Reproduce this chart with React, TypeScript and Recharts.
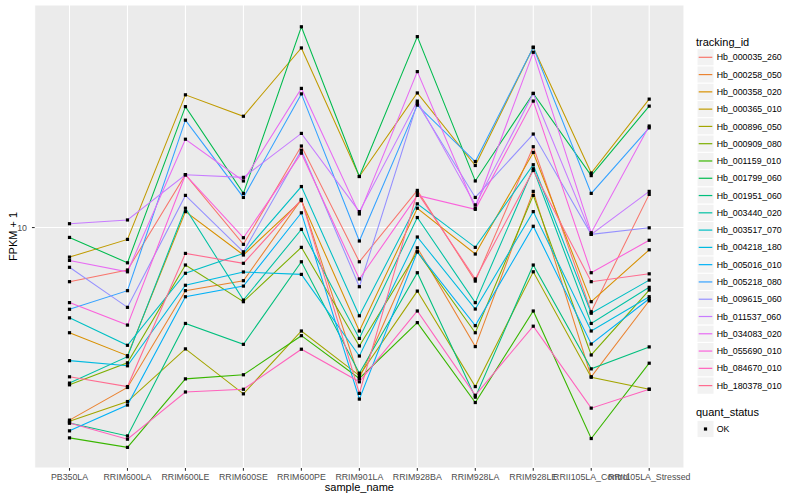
import React from 'react';
import { ComposedChart, Line, XAxis, YAxis, CartesianGrid } from 'recharts';

const FONT = '"Liberation Sans", Arial, Helvetica, sans-serif';

const categories = [
  'PB350LA', 'RRIM600LA', 'RRIM600LE', 'RRIM600SE', 'RRIM600PE', 'RRIM901LA',
  'RRIM928BA', 'RRIM928LA', 'RRIM928LE', 'RRII105LA_Control', 'RRII105LA_Stressed',
];

const trackingIds = [
  'Hb_000035_260', 'Hb_000258_050', 'Hb_000358_020', 'Hb_000365_010', 'Hb_000896_050',
  'Hb_000909_080', 'Hb_001159_010', 'Hb_001799_060', 'Hb_001951_060', 'Hb_003440_020',
  'Hb_003517_070', 'Hb_004218_180', 'Hb_005016_010', 'Hb_005218_080', 'Hb_009615_060',
  'Hb_011537_060', 'Hb_034083_020', 'Hb_055690_010', 'Hb_084670_010', 'Hb_180378_010',
];

// FPKM + 1 per sample, in category order
const hb000035 = [6.6, 7.22, 15.0, 8.79, 18.7, 7.69, 13.3, 6.63, 18.6, 5.24, 12.9];
const hb000258 = [2.28, 2.93, 6.16, 6.65, 12.4, 3.14, 8.56, 4.01, 13.2, 3.18, 5.7];
const hb000358 = [4.46, 3.74, 11.3, 8.1, 12.3, 4.52, 11.6, 8.16, 17.8, 5.66, 8.43];
const hb000365 = [7.97, 9.13, 27.7, 23.5, 39.7, 14.8, 28.1, 16.1, 39.9, 15.2, 26.8];
const hb000896 = [2.26, 2.63, 3.94, 2.79, 4.52, 3.21, 6.14, 2.95, 7.12, 3.17, 2.89];
const hb000909 = [2.99, 3.54, 7.5, 5.66, 8.59, 4.03, 8.3, 4.46, 12.8, 3.76, 6.19];
const hb001159 = [1.99, 1.85, 3.13, 3.23, 4.36, 3.14, 4.82, 2.61, 5.27, 1.98, 3.53];
const hb001799 = [9.27, 7.63, 25.3, 13.0, 46.7, 14.8, 43.3, 14.3, 28.0, 14.9, 25.4];
const hb001951 = [2.23, 2.02, 4.79, 4.08, 7.69, 3.27, 7.07, 2.72, 7.5, 3.38, 4.0];
const hb003440 = [3.03, 3.71, 11.6, 5.73, 9.86, 4.27, 10.8, 5.62, 15.7, 4.79, 6.32];
const hb003517 = [5.0, 4.05, 7.04, 8.2, 13.7, 5.08, 12.0, 8.59, 16.2, 5.18, 6.68];
const hb004218 = [3.6, 3.46, 6.42, 7.11, 6.98, 3.73, 9.3, 5.35, 11.3, 4.52, 5.88];
const hb005016 = [2.1, 2.56, 5.88, 6.38, 11.2, 2.68, 8.3, 4.71, 10.1, 4.09, 5.79];
const hb005218 = [5.34, 6.16, 22.8, 12.6, 27.9, 9.02, 25.6, 16.6, 39.9, 13.0, 21.5];
const hb009615 = [7.37, 5.42, 12.8, 8.3, 18.1, 6.35, 26.0, 12.6, 20.5, 9.49, 9.98];
const hb011537 = [10.3, 10.6, 15.0, 14.7, 20.6, 11.3, 26.4, 11.9, 28.0, 9.49, 13.2];
const hb034083 = [7.77, 7.12, 19.7, 14.3, 29.1, 11.1, 33.1, 11.6, 38.4, 9.61, 21.8];
const hb055690 = [5.62, 4.73, 15.0, 9.25, 17.7, 6.74, 12.8, 11.5, 26.4, 7.07, 9.07];
const hb084670 = [2.23, 1.97, 2.83, 2.89, 3.93, 3.06, 5.27, 2.76, 4.69, 2.5, 2.89];
const hb180378 = [3.18, 2.95, 8.2, 7.6, 12.4, 2.8, 13.1, 6.74, 15.5, 6.6, 7.01];

const seriesValues = [
  hb000035, hb000258, hb000358, hb000365, hb000896, hb000909, hb001159, hb001799, hb001951, hb003440,
  hb003517, hb004218, hb005016, hb005218, hb009615, hb011537, hb034083, hb055690, hb084670, hb180378,
];

const colors = [
  '#F8766D', '#EA8331', '#D89000', '#C09B00', '#A3A500', '#7CAE00', '#39B600', '#00BB4E', '#00BF7D', '#00C1A3',
  '#00BFC4', '#00BAE0', '#00B0F6', '#35A2FF', '#9590FF', '#C77CFF', '#E76BF3', '#FA62DB', '#FF62BC', '#FF6C90',
];

const yTicks = [10];
const yDomain = [1.579, 55.2];
const quantStatus = ['OK'];

const data = categories.map((name, i) => {
  const row: Record<string, any> = { sample_name: name };
  trackingIds.forEach((id, k) => {
    row[id] = seriesValues[k][i];
  });
  return row;
});

const renderSquare = (id: string) => (props: any) => {
  const { cx, cy, index } = props;
  if (cx == null || cy == null) return <g key={`${id}-${index}`} />;
  return <rect key={`${id}-${index}`} x={cx - 1.6} y={cy - 1.6} width={3.2} height={3.2} fill="#000000" />;
};

function LegendOverlay() {
  const keyX = 697;
  const keyW = 17;
  const step = 17.28;
  const firstCenter = 57.3;
  return (
    <svg width={800} height={500} style={{ position: 'absolute', left: 0, top: 0, pointerEvents: 'none' }}>
      <text x={359.4} y={491} textAnchor="middle" fontSize={11} fontFamily={FONT} fill="#000">sample_name</text>
      <text x={16.5} y={236.5} textAnchor="middle" fontSize={11} fontFamily={FONT} fill="#000" transform="rotate(-90 16.5 236.5)">FPKM + 1</text>
      <text x={696} y={45.5} fontSize={11} fontFamily={FONT} fill="#000">tracking_id</text>
      {trackingIds.map((id, k) => {
        const cy = firstCenter + k * step;
        return (
          <g key={id}>
            <rect x={keyX} y={cy - step / 2} width={keyW} height={step} fill="#F2F2F2" stroke="#FFFFFF" strokeWidth={1} />
            <line x1={keyX + 1.7} x2={keyX + keyW - 1.7} y1={cy} y2={cy} stroke={colors[k]} strokeWidth={1.2} />
            <text x={716.7} y={cy + 3.1} fontSize={8.8} fontFamily={FONT} fill="#000">{id}</text>
          </g>
        );
      })}
      <text x={696} y={416} fontSize={11} fontFamily={FONT} fill="#000">quant_status</text>
      {quantStatus.map((q, k) => {
        const cy = 429 + k * step;
        return (
          <g key={q}>
            <rect x={keyX} y={cy - step / 2} width={keyW} height={step} fill="#F2F2F2" stroke="#FFFFFF" strokeWidth={1} />
            <rect x={keyX + keyW / 2 - 1.6} y={cy - 1.6} width={3.2} height={3.2} fill="#000" />
            <text x={716.7} y={cy + 3.1} fontSize={8.8} fontFamily={FONT} fill="#000">{q}</text>
          </g>
        );
      })}
    </svg>
  );
}

export default function App() {
  return (
    <div style={{ position: 'absolute', left: 0, top: 0, width: 800, height: 500, background: '#FFFFFF', fontFamily: FONT }}>
      <ComposedChart width={800} height={500} data={data} margin={{ top: 5, right: 116, bottom: 0, left: 0 }}>
        <CartesianGrid fill="#EBEBEB" stroke="#FFFFFF" strokeWidth={1.07} />
        <XAxis
          dataKey="sample_name"
          padding={{ left: 34.8, right: 34.8 }}
          height={32}
          interval={0}
          axisLine={false}
          tickLine={{ stroke: '#333333', strokeWidth: 1.07 }}
          tickSize={2.75}
          tickMargin={3}
          tick={{ fill: '#4D4D4D', fontSize: 8.8, fontFamily: FONT }}
        />
        <YAxis
          scale="log"
          domain={yDomain}
          allowDataOverflow
          ticks={yTicks}
          width={34.7}
          axisLine={false}
          tickLine={{ stroke: '#333333', strokeWidth: 1.07 }}
          tickSize={2.75}
          tickMargin={5}
          tick={{ fill: '#4D4D4D', fontSize: 8.8, fontFamily: FONT }}
        />
        {trackingIds.map((id, k) => (
          <Line
            key={`line-${id}`}
            type="linear"
            dataKey={id}
            stroke={colors[k]}
            strokeWidth={1.07}
            dot={false}
            activeDot={false}
            isAnimationActive={false}
          />
        ))}
        {trackingIds.map((id) => (
          <Line
            key={`pts-${id}`}
            type="linear"
            dataKey={id}
            stroke="none"
            dot={renderSquare(id)}
            activeDot={false}
            isAnimationActive={false}
          />
        ))}
      </ComposedChart>
      <LegendOverlay />
    </div>
  );
}
